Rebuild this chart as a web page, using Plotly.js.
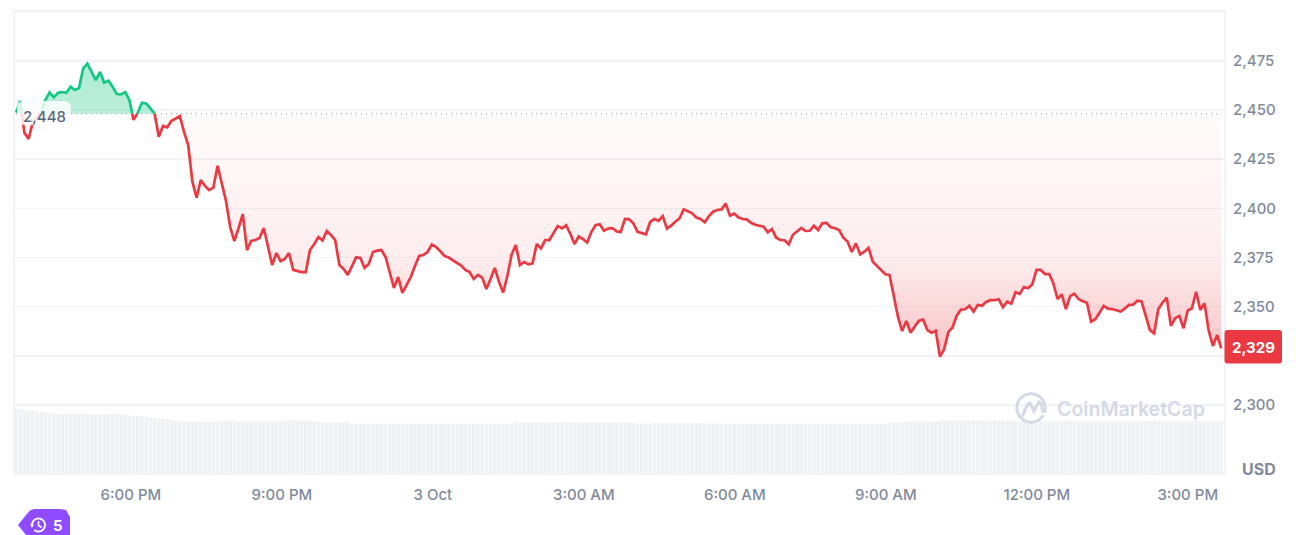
<!DOCTYPE html>
<html>
<head>
<meta charset="utf-8">
<script src="https://cdn.plot.ly/plotly-3.0.1.min.js"></script>
<style>html,body{margin:0;padding:0;background:#fff;overflow:hidden}#chart{width:1296px;height:535px}</style>
</head>
<body>
<div id="chart"></div>
<script>
const startTime = '2024-10-02T15:43:00';
const stepMinutes = 5.007;
const baseline = 2448.2;
const prices = [
2448.7,2454.6,2438.5,2435.3,2443.9,2446,2449,2455.1,2459,2456.5,2458.8,2459.2,2458.8,2461.9,2460.2,2461.1,
2471.2,2473.6,2469.5,2465.3,2469.4,2463.9,2464.9,2461.9,2458.2,2458,2459.2,2455.1,2445,2448.7,2453.7,2453.4,
2450.9,2448.4,2436.5,2441.9,2441.2,2444.4,2445.8,2447,2439,2432.2,2413.6,2405.4,2414.4,2411.4,2409.3,2410.5,
2421.7,2412.8,2403.8,2390.5,2383.4,2390,2397.1,2378.8,2383.4,2383.9,2384.9,2390,2379.9,2371.2,2377.3,2373.2,
2374.3,2377.3,2368.7,2368.2,2367.6,2367.6,2378.8,2381.7,2385.4,2383.6,2388.5,2386.5,2383.9,2371.2,2369.2,2366.1,
2370.2,2375.1,2374.8,2369.7,2371.7,2377.8,2378.5,2378.8,2375.3,2367.6,2359.5,2365.1,2357,2361,2365.1,2370.7,
2375.8,2376.3,2377.8,2381.6,2380.4,2378.3,2375.8,2375,2373.7,2372.2,2370.9,2368.7,2367.6,2364.1,2366.1,2364.8,
2359,2364.1,2369.7,2362.6,2357.2,2365.6,2376.3,2381.4,2371.2,2372.7,2371.5,2372,2381.9,2379.6,2383.9,2383.9,
2387.5,2391,2389.8,2391.4,2387,2381.9,2385.7,2384.4,2382.6,2388,2391.5,2391.9,2388.6,2389.7,2390,2388.3,
2388,2394.6,2394.4,2392.4,2388.1,2387.6,2386.8,2393.1,2394.6,2393.7,2396.1,2389.7,2391.2,2393.2,2395,2399.5,
2398.3,2397.5,2395.3,2394.6,2392.9,2396.1,2398.3,2399.2,2399.5,2402.4,2396.3,2397.3,2395.5,2394.6,2394.4,2392.7,
2391.7,2391,2390.7,2387.8,2389.5,2385.1,2383.9,2383.8,2381.7,2386.6,2388.1,2390,2388.5,2388.6,2391.2,2389,
2392.4,2392.6,2390.4,2389.9,2389,2385.1,2383.1,2377.8,2382.2,2376.6,2378,2379.9,2372.9,2370.7,2368.2,2366.5,
2366.1,2355.9,2344.9,2337.6,2342.7,2336.8,2339.8,2342.9,2343.4,2338.1,2336.8,2337.8,2324.6,2328.3,2337,2339.5,
2345.4,2348.5,2348.7,2350.5,2347.5,2350.9,2350.5,2352.4,2353.3,2353.3,2353.8,2349.7,2352.5,2351.5,2357.3,2356.5,
2360,2359.4,2361.4,2368.7,2368.7,2366.6,2366.6,2361.9,2353.9,2356.3,2348.8,2355.4,2356.6,2353.9,2352.7,2352,
2342.4,2343.6,2346.9,2350.4,2349,2348.8,2348.2,2347.5,2349,2350.9,2351,2353,2352.7,2345.8,2338.1,2336.5,
2348.8,2352,2354.6,2340.3,2344.1,2345.3,2339,2348,2349.2,2357.6,2348.3,2351.7,2337.8,2330,2335.6,2328.8
];
const volumes = [
65,65,64.5,64,63.5,63,62,61.5,61,60.5,60,60,60,60,60,60,
60,60,59.5,59,59.5,60,60,60,60,60,59.5,59,58,58,58,57.5,
57,56,56,56,55,54,53,53,52.5,52.5,52.5,52,52,52,52,52,
52,53,53,53,53,52.5,52,52,53,53,53,53,53,53,53,53,
53.5,54,54,53.5,53,53,53,53,51.7,51.7,51.7,51.7,51.7,51.7,51.7,51.7,
50.3,50.3,50.3,50.3,50.3,50.3,50.3,50.3,50.3,50.3,50.3,50.3,50.3,50.3,50.3,50.3,
50.3,50.3,50.3,50.3,50.3,50.3,50.3,50.3,50.3,50.3,50.3,50.3,50.3,50.3,50.3,50.3,
50.3,50.3,50.3,50.3,50.3,50.3,50.3,51.7,51.7,51.7,51.7,51.7,51.7,51.7,51.7,51.7,
51.7,51.7,51.7,51.7,51.7,51.7,51.7,51.7,51.7,51.7,51.7,51.7,51.7,51.7,51.7,51.7,
51.5,51.5,51.5,51,50.5,50.5,50.5,50.5,51,51,51,51,51,51,51,51,
51,51,51,51,50.5,50.5,50.5,50.5,50.3,50.3,50.3,50.3,50.3,50.3,50.3,50.3,
50.3,50.3,50.3,50.3,50.3,50.3,50.3,50.3,50.3,50.3,50.3,50.3,50.3,50.3,50.3,50.3,
50.3,50.3,50.3,50.3,50.3,50.3,50.3,50.3,50.3,50.3,50.3,50.3,50.3,50.3,50.3,50.3,
51.5,51.5,51.5,51.5,51.5,52.5,52.5,52.5,52.5,52.5,52.5,52.5,53.5,53.5,53.5,53.5,
53.5,53.5,53.5,53.5,53.5,53.5,53.5,53.5,53.5,53.5,53.5,53.5,53.5,53.5,53,53,
53,53,53,53,53,53,53,53,53,53,53,53,53,53,53,53,
53,53,53,53,53,53,53,53,53,53,53,53,53,53,53,53,
53,53,53,53,53,53,53,53,53,53,53,53,53,53,53,53
];
const xTickTimes = ['2024-10-02T18:00:00','2024-10-02T21:00:00','2024-10-03T00:00:00','2024-10-03T03:00:00','2024-10-03T06:00:00','2024-10-03T09:00:00','2024-10-03T12:00:00','2024-10-03T15:00:00'];
const xTickLabels = ['6:00 PM','9:00 PM','3 Oct','3:00 AM','6:00 AM','9:00 AM','12:00 PM','3:00 PM'];
const yTickValues = [2300,2325,2350,2375,2400,2425,2450,2475];
const yTickLabels = ['2,300','','2,350','2,375','2,400','2,425','2,450','2,475'];
const lastLabel = '2,329';
const baseLabel = '2,448';
const badgeCount = '5';

const W=1296,H=535,L=15,R=1224,T=12,B=473;
const px=x=>(x-L)/(R-L), py=y=>(B-y)/(B-T);
const startMs=Date.parse(startTime+'Z');
const iso=ms=>new Date(ms).toISOString().slice(0,19);
const msList=prices.map((_,i)=>startMs+i*stepMinutes*60000);
const times=msList.map(iso);

// split the price line where it crosses the opening price
const X=[],G=[],Rd=[],Gf=[],Rf=[];
prices.forEach((p,i)=>{
  if(i>0){
    const q=prices[i-1];
    if((q-baseline)*(p-baseline)<0){
      const f=(baseline-q)/(p-q);
      X.push(iso(msList[i-1]+f*(msList[i]-msList[i-1])));
      G.push(baseline);Rd.push(baseline);Gf.push(baseline);Rf.push(baseline);
    }
  }
  X.push(times[i]);
  G.push(p>=baseline?p:null);
  Rd.push(p<=baseline?p:null);
  Gf.push(Math.max(p,baseline));
  Rf.push(Math.min(p,baseline));
});

const gray='#808A9D';
const font={family:'Inter, "Noto Sans", sans-serif',size:15,color:gray,weight:500};
const basePts=X.map(()=>baseline);
const traces=[
 {x:X,y:basePts,mode:'lines',line:{width:0},hoverinfo:'skip'},
 {x:X,y:Gf,mode:'lines',line:{width:0},fill:'tonexty',hoverinfo:'skip',
  fillcolor:'rgba(22,199,132,0.3)',
  fillgradient:{type:'vertical',start:2475,stop:2448,colorscale:[[0,'rgba(22,199,132,0.34)'],[1,'rgba(22,199,132,0.3)']]}},
 {x:X,y:basePts,mode:'lines',line:{width:0},hoverinfo:'skip'},
 {x:X,y:Rf,mode:'lines',line:{width:0},fill:'tonexty',hoverinfo:'skip',
  fillcolor:'rgba(234,57,67,0.15)',
  fillgradient:{type:'vertical',start:2448,stop:2325,colorscale:[[0,'rgba(234,57,67,0.02)'],[0.6,'rgba(234,57,67,0.09)'],[0.8,'rgba(234,57,67,0.2)'],[1,'rgba(234,57,67,0.3)']]}},
 {x:[times[0],times[times.length-1]],y:[baseline,baseline],mode:'lines',line:{color:'#A6B0C3',width:1.2,dash:'1px,4px'},hoverinfo:'skip'},
 {x:X,y:G,mode:'lines',line:{color:'#16C784',width:2.7},connectgaps:false,hoverinfo:'skip'},
 {x:X,y:Rd,mode:'lines',line:{color:'#EA3943',width:2.7},connectgaps:false,hoverinfo:'skip'},
 {x:times,y:volumes,type:'bar',yaxis:'y2',marker:{color:'#EFF2F5',line:{width:0}},hoverinfo:'skip'}
];

function roundRect(x0,y0,x1,y1,r){
  const a=(x,y)=>px(x)+','+py(y);
  return 'M'+a(x0+r,y0)+' L'+a(x1-r,y0)+' Q'+a(x1,y0)+' '+a(x1,y0+r)+' L'+a(x1,y1-r)+' Q'+a(x1,y1)+' '+a(x1-r,y1)+
    ' L'+a(x0+r,y1)+' Q'+a(x0,y1)+' '+a(x0,y1-r)+' L'+a(x0,y0+r)+' Q'+a(x0,y0)+' '+a(x0+r,y0)+' Z';
}
function arc(cx,cy,r,a0,a1){
  const n=40;let s='';
  for(let i=0;i<=n;i++){const t=(a0+(a1-a0)*i/n)*Math.PI/180;
    s+=(i?' L':'M')+px(cx+r*Math.cos(t))+','+py(cy+r*Math.sin(t));}
  return s;
}
function poly(pts){return pts.map((p,i)=>(i?'L':'M')+px(p[0])+','+py(p[1])).join(' ');}
function shape(path,o){return Object.assign({type:'path',xref:'paper',yref:'paper',path,layer:'above',line:{width:0}},o);}

const wm='#D3DAE6', purple='#8F4BFF';
const shapes=[
 shape(roundRect(17,101,71,125,7),{fillcolor:'rgba(255,255,255,0.82)'}),
 shape(roundRect(1224.5,330,1282,363.5,3),{fillcolor:'#EA3943'}),
 shape(arc(1031,408,14.2,-330,20),{line:{color:wm,width:3}}),
 shape(poly([[1022,417],[1025,410],[1028,404],[1030,403],[1032,407],[1034,411],[1036,407],[1039,402],[1041,403],[1042,408],[1043,413]]),{line:{color:wm,width:3}}),
 shape(poly([[18,525],[26,515],[30,510.5],[34,509],[60,509],[66,510],[70,517],[70,535],[26,535]])+' Z',{fillcolor:purple}),
 shape(arc(38.5,525,6.5,-200,130),{line:{color:'#fff',width:1.8}}),
 shape(poly([[38.5,521],[38.5,525.5],[41.5,527.5]]),{line:{color:'#fff',width:1.6}}),
 shape(poly([[30,524],[34,524],[32,527]])+' Z',{fillcolor:'#fff'})
];
const ann=(text,x,y,o)=>Object.assign({text,x:px(x),y:py(y),xref:'paper',yref:'paper',showarrow:false,xanchor:'center',yanchor:'middle'},o);
const annotations=[
 ann(baseLabel,44,116,{font:Object.assign({},font,{color:'#58667E'})}),
 ann(lastLabel,1253.5,347.5,{font:Object.assign({},font,{color:'#fff',weight:700})}),
 ann('USD',1259,469,{font:Object.assign({},font,{size:16,weight:700})}),
 ann('CoinMarketCap',1130.5,409,{font:{family:'Inter, sans-serif',size:19.6,color:wm,weight:600}}),
 ann(badgeCount,57.5,525,{font:Object.assign({},font,{color:'#fff',weight:700})})
];

const xr=[iso(startMs-1.2*60000),iso(startMs+1440.2*60000)];
Plotly.newPlot('chart',traces,{
  width:W,height:H,autosize:false,showlegend:false,hovermode:false,bargap:0.14,
  paper_bgcolor:'#fff',plot_bgcolor:'#fff',
  margin:{l:L,r:W-R,t:T,b:H-B,pad:0},
  xaxis:{type:'date',range:xr,tickmode:'array',tickvals:xTickTimes,ticktext:xTickLabels,tickfont:font,
    showgrid:false,zeroline:false,showline:true,mirror:true,linecolor:'#F1F3F6',linewidth:2,
    ticks:'outside',ticklen:7,tickcolor:'rgba(0,0,0,0)'},
  yaxis:{side:'right',range:[2265.4,2499.9],tickmode:'array',tickvals:yTickValues,ticktext:yTickLabels,tickfont:font,
    showgrid:true,gridcolor:'#F1F3F6',gridwidth:1.5,zeroline:false,showline:true,mirror:true,linecolor:'#F1F3F6',linewidth:2,
    ticks:'outside',ticklen:4,tickcolor:'rgba(0,0,0,0)'},
  yaxis2:{overlaying:'y',range:[1,462],visible:false,fixedrange:true},
  shapes,annotations
},{displayModeBar:false,staticPlot:true});
</script>
</body>
</html>
